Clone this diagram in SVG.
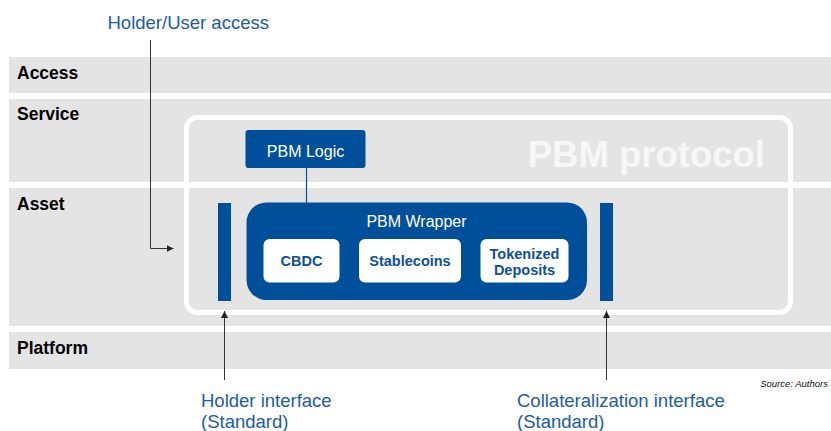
<svg xmlns="http://www.w3.org/2000/svg" width="831" height="431" viewBox="0 0 831 431">
<style>
.band{fill:#e4e4e4}
.bl{font-family:"Liberation Sans",Arial,sans-serif;font-weight:bold;font-size:17.5px;fill:#000}
.blue{fill:#004f9b}
.wt{font-family:"Liberation Sans",Arial,sans-serif;font-size:16px;fill:#fff}
.chip{fill:#fff}
.ct{font-family:"Liberation Sans",Arial,sans-serif;font-weight:bold;font-size:14.5px;fill:#0d4f9b;text-anchor:middle}
.lab{font-family:"Liberation Sans",Arial,sans-serif;font-size:18.5px;fill:#1b5ca8}
.conn{stroke:#333;stroke-width:1;fill:none}
</style>
<defs>
<marker id="ah" viewBox="0 0 10 10" refX="10" refY="5" markerWidth="7" markerHeight="7" markerUnits="userSpaceOnUse" orient="auto">
<path d="M0,0 L10,5 L0,10 z" fill="#222"/>
</marker>
</defs>
<rect width="831" height="431" fill="#fff"/>
<g id="layers">
<g id="access"><rect class="band" x="9" y="57" width="822" height="36"/><text class="bl" x="17" y="79">Access</text></g>
<g id="service"><rect class="band" x="9" y="99" width="822" height="83"/><text class="bl" x="17" y="119.5">Service</text></g>
<g id="asset"><rect class="band" x="9" y="188" width="822" height="138"/><text class="bl" x="17" y="209.5">Asset</text></g>
<g id="platform"><rect class="band" x="9" y="332" width="822" height="37"/><text class="bl" x="17" y="354">Platform</text></g>
</g>
<g id="pbm-protocol">
<rect x="186.5" y="117.5" width="604" height="195" rx="11" fill="none" stroke="#fff" stroke-width="5"/>
<text x="765" y="167" text-anchor="end" font-family="'Liberation Sans',Arial,sans-serif" font-weight="bold" font-size="36.5" fill="#f7f7f7">PBM protocol</text>
</g>
<g id="connectors">
<line x1="306.5" y1="168" x2="306.5" y2="203" stroke="#004f9b" stroke-width="1.2"/>
<polyline class="conn" points="150.5,40 150.5,248.5 173.5,248.5" marker-end="url(#ah)"/>
<line class="conn" x1="224.5" y1="380" x2="224.5" y2="311" marker-end="url(#ah)"/>
<line class="conn" x1="606.5" y1="380" x2="606.5" y2="311" marker-end="url(#ah)"/>
</g>
<g id="pbm-logic">
<rect class="blue" x="245.5" y="130" width="120" height="38" rx="3"/>
<text class="wt" x="305.5" y="157" text-anchor="middle">PBM Logic</text>
</g>
<g id="holder-bar"><rect class="blue" x="218" y="203" width="13" height="98"/></g>
<g id="collateral-bar"><rect class="blue" x="600" y="203" width="13" height="98"/></g>
<g id="pbm-wrapper">
<rect class="blue" x="246.5" y="202.5" width="340.5" height="97.5" rx="20"/>
<text class="wt" x="416.5" y="226.5" text-anchor="middle" font-size="15.5">PBM Wrapper</text>
</g>
<g id="cbdc"><rect class="chip" x="263.5" y="239" width="76" height="43.5" rx="6"/><text class="ct" x="301.5" y="266">CBDC</text></g>
<g id="stablecoins"><rect class="chip" x="359" y="239" width="102" height="43.5" rx="6"/><text class="ct" x="410" y="266">Stablecoins</text></g>
<g id="tokenized"><rect class="chip" x="480.5" y="239" width="88" height="43.5" rx="6"/><text class="ct" x="524.5" y="258.5">Tokenized</text><text class="ct" x="524.5" y="275">Deposits</text></g>
<g id="labels">
<text class="lab" x="107.5" y="29" font-size="18.3">Holder/User access</text>
<text class="lab" x="201" y="406.5">Holder interface</text>
<text class="lab" x="201" y="428">(Standard)</text>
<text class="lab" x="517" y="406.5">Collateralization interface</text>
<text class="lab" x="517" y="428">(Standard)</text>
<text x="828" y="387" text-anchor="end" font-family="'Liberation Sans',Arial,sans-serif" font-style="italic" font-size="9.5" fill="#111">Source: Authors</text>
</g>
</svg>
